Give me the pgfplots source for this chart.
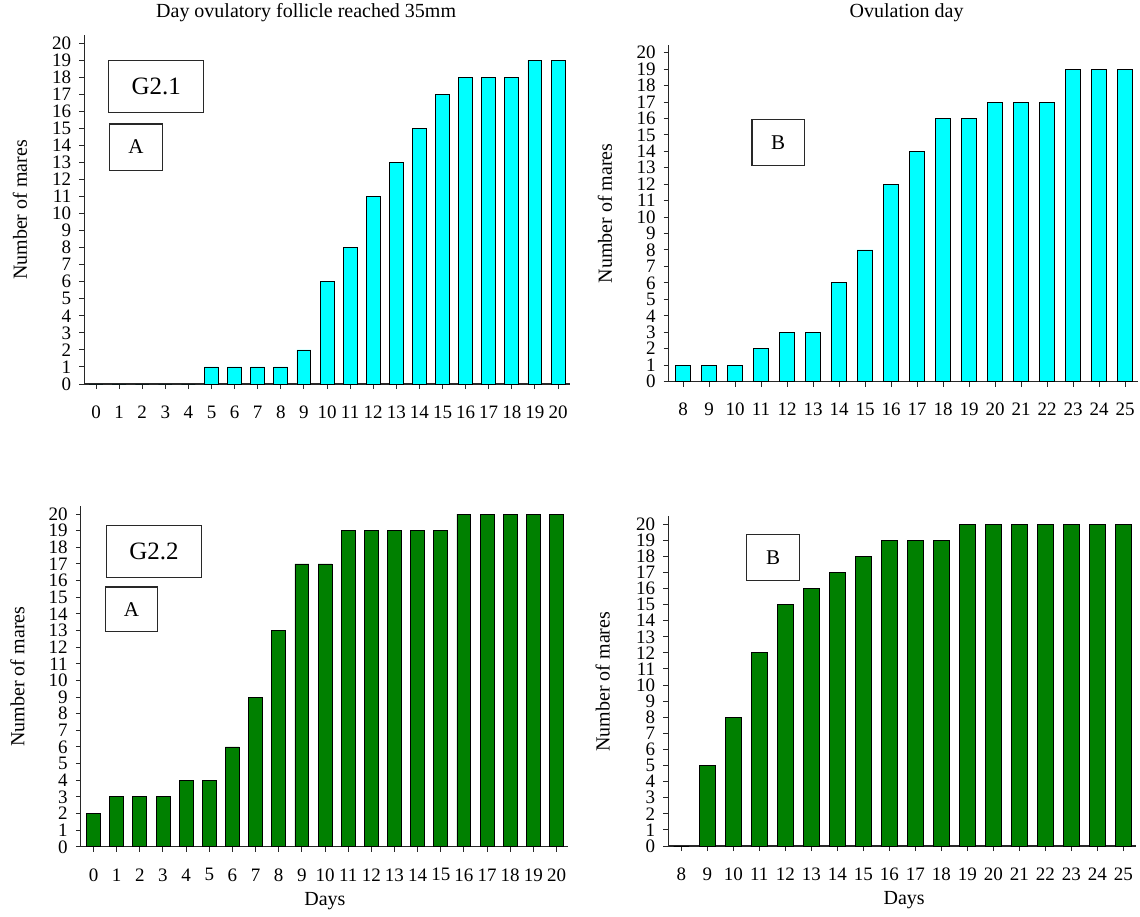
\documentclass[border=0pt]{standalone}
\usepackage{fontspec}
\setmainfont{Liberation Serif}
\usepackage{pgfplots}
\pgfplotsset{compat=1.18}

\definecolor{barcyan}{RGB}{0,255,255}
\definecolor{bargreen}{RGB}{0,128,0}
\definecolor{axisgray}{RGB}{40,40,40}

% cumulative number of mares per day (G2.1 top row, G2.2 bottom row)
\pgfplotstableread{
day n
0 0
1 0
2 0
3 0
4 0
5 1
6 1
7 1
8 1
9 2
10 6
11 8
12 11
13 13
14 15
15 17
16 18
17 18
18 18
19 19
20 19
}\folA
\pgfplotstableread{
day n
8 1
9 1
10 1
11 2
12 3
13 3
14 6
15 8
16 12
17 14
18 16
19 16
20 17
21 17
22 17
23 19
24 19
25 19
}\ovuA
\pgfplotstableread{
day n
0 2
1 3
2 3
3 3
4 4
5 4
6 6
7 9
8 13
9 17
10 17
11 19
12 19
13 19
14 19
15 19
16 20
17 20
18 20
19 20
20 20
}\folB
\pgfplotstableread{
day n
8 0
9 5
10 8
11 12
12 15
13 16
14 17
15 18
16 19
17 19
18 19
19 20
20 20
21 20
22 20
23 20
24 20
25 20
}\ovuB

\tikzset{labelbox/.style={draw=axisgray, line width=1.2pt, fill=white}}

\pgfplotsset{
  marepanel/.style={
    scale only axis,
    anchor=south west,
    axis lines*=left,
    axis line style={line width=1.2pt, axisgray},
    ymin=0, ymax=20.5,
    ytick={0,...,20},
    tick align=outside,
    major tick length=5pt,
    tick style={line width=1pt, axisgray},
    font=\fontsize{20}{24}\selectfont,
    tick label style={font=\fontsize{19}{21}\selectfont},
    /pgf/number format/assume math mode=true,
    xticklabel style={anchor=center, inner sep=0pt, yshift=-23pt},
    yticklabel style={anchor=east, inner sep=0pt, xshift=-8pt},
    ylabel={Number of mares},
    ybar, bar width=0.6,
    clip=false,
  },
}

\begin{document}
\begin{tikzpicture}
\useasboundingbox (0,0) rectangle (1140pt,-916pt);

% G2.1, day the ovulatory follicle reached 35 mm
\begin{axis}[marepanel,
  at={(84.45pt,-384pt)}, width=485.1pt, height=349.5pt,
  xmin=-0.5, xmax=20.5, xtick={0,...,20},
  ylabel style={at={(axis description cs:-0.133,0.498)}, anchor=center},
  title={Day ovulatory follicle reached 35mm},
  title style={at={(axis description cs:0.457,1.046)}, anchor=center},
]
\addplot[fill=barcyan, draw=black, line width=0.8pt] table[x=day, y=n] {\folA};
\draw[labelbox] (axis cs:0.554,18.98) rectangle (axis cs:4.66,15.93);
\node[font=\fontsize{25}{30}\selectfont] at (axis cs:2.61,17.45) {G2.1};
\draw[labelbox] (axis cs:0.584,15.25) rectangle (axis cs:2.88,12.54);
\node[font=\fontsize{21}{25}\selectfont] at (axis cs:1.73,13.9) {A};
\end{axis}

% G2.1, ovulation day
\begin{axis}[marepanel,
  at={(668.7pt,-381.5pt)}, width=469.3pt, height=337pt,
  xmin=7.45, xmax=25.5, xtick={8,...,25},
  ylabel style={at={(axis description cs:-0.136,0.499)}, anchor=center},
  title={Ovulation day},
  title style={at={(axis description cs:0.507,1.076)}, anchor=center},
]
\addplot[fill=barcyan, draw=black, line width=0.8pt] table[x=day, y=n] {\ovuA};
\draw[labelbox] (axis cs:10.65,15.95) rectangle (axis cs:12.67,13.12);
\node[font=\fontsize{21}{25}\selectfont] at (axis cs:11.66,14.53) {B};
\end{axis}

% G2.2, day the ovulatory follicle reached 35 mm
\begin{axis}[marepanel,
  at={(80.8pt,-846.8pt)}, width=487.3pt, height=341.1pt,
  xmin=-0.55, xmax=20.5, xtick={0,...,20},
  ylabel style={at={(axis description cs:-0.130,0.499)}, anchor=center},
  xlabel={Days},
  xlabel style={at={(axis description cs:0.501,-0.158)}, anchor=center},
]
\addplot[fill=bargreen, draw=black, line width=0.8pt] table[x=day, y=n] {\folB};
\draw[labelbox] (axis cs:0.566,19.32) rectangle (axis cs:4.65,16.2);
\node[font=\fontsize{25}{30}\selectfont] at (axis cs:2.61,17.76) {G2.2};
\draw[labelbox] (axis cs:0.50,15.61) rectangle (axis cs:2.78,12.95);
\node[font=\fontsize{21}{25}\selectfont] at (axis cs:1.64,14.28) {A};
\end{axis}

% G2.2, ovulation day
\begin{axis}[marepanel,
  at={(668.3pt,-846pt)}, width=468pt, height=329.9pt,
  xmin=7.5, xmax=25.5, xtick={8,...,25},
  ylabel style={at={(axis description cs:-0.140,0.498)}, anchor=center},
  xlabel={Days},
  xlabel style={at={(axis description cs:0.504,-0.164)}, anchor=center},
]
\addplot[fill=bargreen, draw=black, line width=0.8pt] table[x=day, y=n] {\ovuB};
\draw[labelbox] (axis cs:10.52,19.37) rectangle (axis cs:12.54,16.51);
\node[font=\fontsize{21}{25}\selectfont] at (axis cs:11.53,17.94) {B};
\end{axis}
\end{tikzpicture}
\end{document}
